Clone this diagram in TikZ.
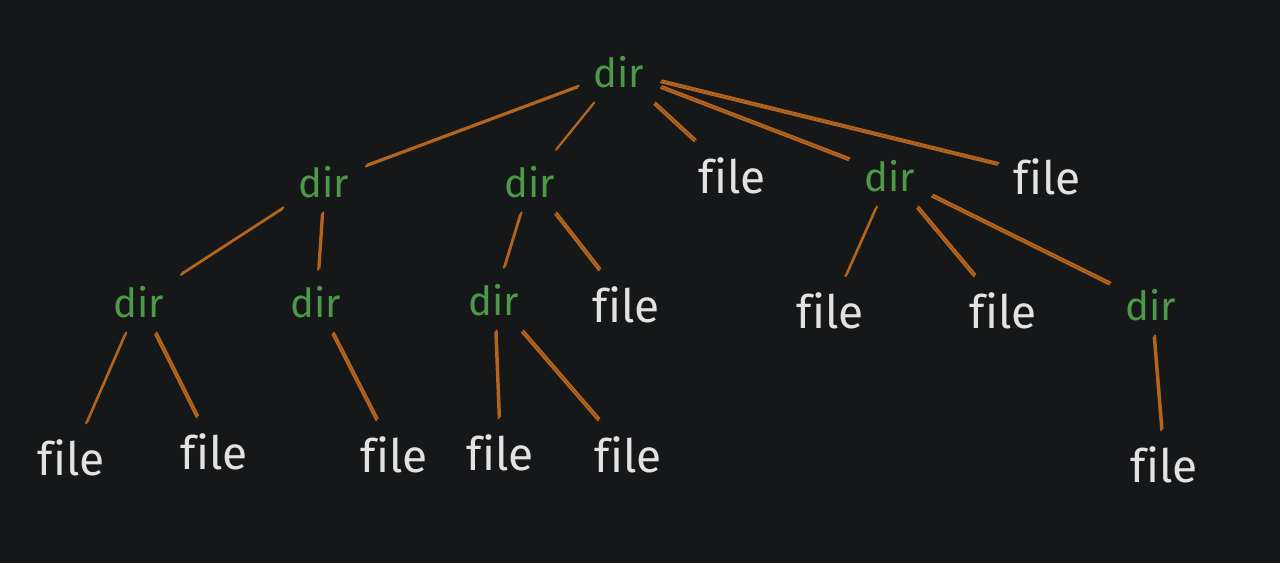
\documentclass[tikz,border=0pt]{standalone}
\usepackage{fontspec}
\setmainfont{Fira Sans}[Ligatures=NoCommon]
\usetikzlibrary{calc}
\definecolor{bgdark}{HTML}{161718}
\definecolor{dirgreen}{HTML}{4C9A48}
\definecolor{filegray}{HTML}{E2E2E2}
\definecolor{branchbrown}{HTML}{B5641E}

\begin{document}
\begin{tikzpicture}[x=0.5pt,y=-0.5pt,
    dirnode/.style={text=dirgreen,font=\fontsize{20}{24}\selectfont,inner sep=8pt},
    filenode/.style={text=filegray,font=\fontsize{23}{27}\selectfont,inner sep=8pt},
    branch/.style={draw=branchbrown,line width=1pt,line cap=round}]
  \fill[bgdark] (0,0) rectangle (1280,563);

  % root and first level
  \node[dirnode]  (root) at (619,72)  {dir};
  \node[dirnode]  (dA)   at (324,182) {dir};
  \node[dirnode]  (dB)   at (530,182) {dir};
  \node[filenode] (fC)   at (732,176) {file};
  \node[dirnode]  (dD)   at (890,176) {dir};
  \node[filenode] (fE)   at (1047,177) {file};

  % second level
  \node[dirnode]  (dAA)  at (139,302) {dir};
  \node[dirnode]  (dAB)  at (316,302) {dir};
  \node[dirnode]  (dBA)  at (494,300) {dir};
  \node[filenode] (fBB)  at (626,305) {file};
  \node[filenode] (fDA)  at (830,311) {file};
  \node[filenode] (fDB)  at (1003,311) {file};
  \node[dirnode]  (dDC)  at (1151,305) {dir};

  % leaves
  \node[filenode] (fAAA) at (71,458)  {file};
  \node[filenode] (fAAB) at (214,452) {file};
  \node[filenode] (fABA) at (394,455) {file};
  \node[filenode] (fBAA) at (500,453) {file};
  \node[filenode] (fBAB) at (628,455) {file};
  \node[filenode] (fDCA) at (1164,465) {file};

  % sketchy double strokes
  \foreach \p/\c in {root/dA,root/dB,root/fC,root/dD,root/fE,
                     dA/dAA,dA/dAB,dB/dBA,dB/fBB,dD/fDA,dD/fDB,dD/dDC,
                     dAA/fAAA,dAA/fAAB,dAB/fABA,dBA/fBAA,dBA/fBAB,dDC/fDCA} {
    \draw[branch] (\p) -- (\c);
    \draw[branch,transform canvas={shift={(0.7pt,0.9pt)}}] (\p) -- (\c);
  };
\end{tikzpicture}
\end{document}
